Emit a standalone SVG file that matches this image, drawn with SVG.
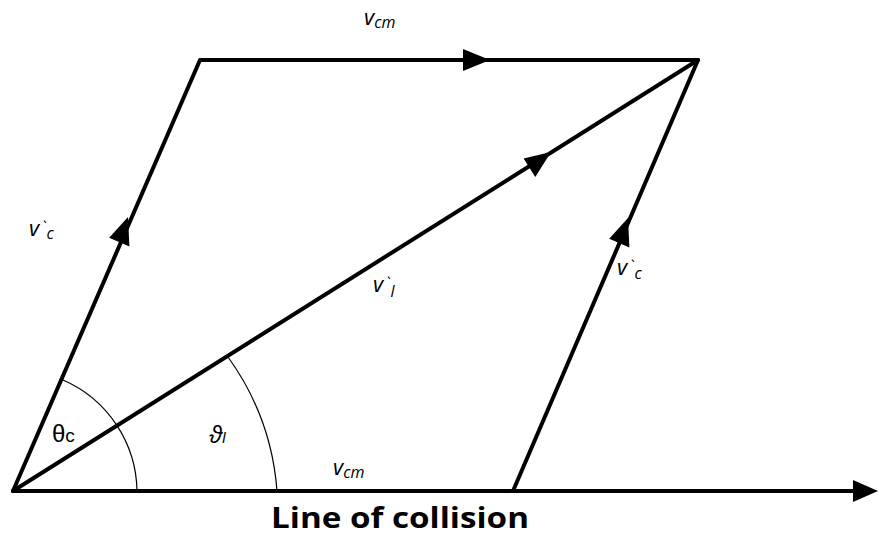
<svg xmlns="http://www.w3.org/2000/svg" width="878" height="538" viewBox="0 0 878 538">
<defs>
<style>
.vec{stroke:#000;stroke-width:4;fill:none;stroke-linecap:round;stroke-linejoin:round}
.arc{stroke:#000;stroke-width:1.2;fill:none}
.head{fill:#000}
.lbl{font-family:"Open Sans","Liberation Sans",sans-serif;font-style:italic;font-size:22px;fill:#000}
.sub{font-size:16px}
.ang{font-family:"Liberation Sans",Arial,sans-serif;font-size:24px;fill:#000}
.title{font-family:"Open Sans","Liberation Sans",sans-serif;font-weight:bold;font-size:28px;fill:#000}
</style>
</defs>
<rect width="878" height="538" fill="#fff"/>
<g id="connectors">
<path class="vec" d="M13 491 L200 60 L698 60"/>
<path class="vec" d="M13 491 L698 60"/>
<path class="vec" d="M513 491 L698 60"/>
<path class="vec" d="M13 491 L856 491"/>
<polygon class="head" points="878,491 853,480 853,502"/>
<polygon class="head" points="490,60 463,49 463,71"/>
<polygon class="head" points="128,217 129.4,246.5 109.2,237.8"/>
<polygon class="head" points="628,218 629.4,247.5 609.2,238.8"/>
<polygon class="head" points="551,152 535.3,177 523.6,158.4"/>
<path class="arc" d="M63 380 A123 123 0 0 1 137 491"/>
<path class="arc" d="M228 357 A262 262 0 0 1 277 491"/>
</g>
<g id="label-vcm-top"><text class="lbl" x="364" y="25">v<tspan class="sub" dy="3">cm</tspan></text></g>
<g id="label-vc-left"><text class="lbl" x="29" y="236">v<tspan dx="2" dy="-3" font-size="16">`</tspan><tspan class="sub" dx="1" dy="6">c</tspan></text></g>
<g id="label-vl"><text class="lbl" x="373" y="292">v<tspan dx="2" dy="-3" font-size="16">`</tspan><tspan class="sub" dx="1" dy="8">l</tspan></text></g>
<g id="label-vc-right"><text class="lbl" x="617" y="275">v<tspan dx="2" dy="-3" font-size="16">`</tspan><tspan class="sub" dx="1" dy="7">c</tspan></text></g>
<g id="label-theta-c"><text class="ang" x="52" y="442">θ<tspan font-size="19">c</tspan></text></g>
<g id="label-theta-l"><text class="ang" x="209" y="443" font-style="italic">ϑ<tspan font-size="15">l</tspan></text></g>
<g id="label-vcm-bottom"><text class="lbl" x="333" y="475">v<tspan class="sub" dy="3">cm</tspan></text></g>
<g id="title"><text class="title" x="271" y="528" textLength="258" lengthAdjust="spacingAndGlyphs">Line of collision</text></g>
</svg>
